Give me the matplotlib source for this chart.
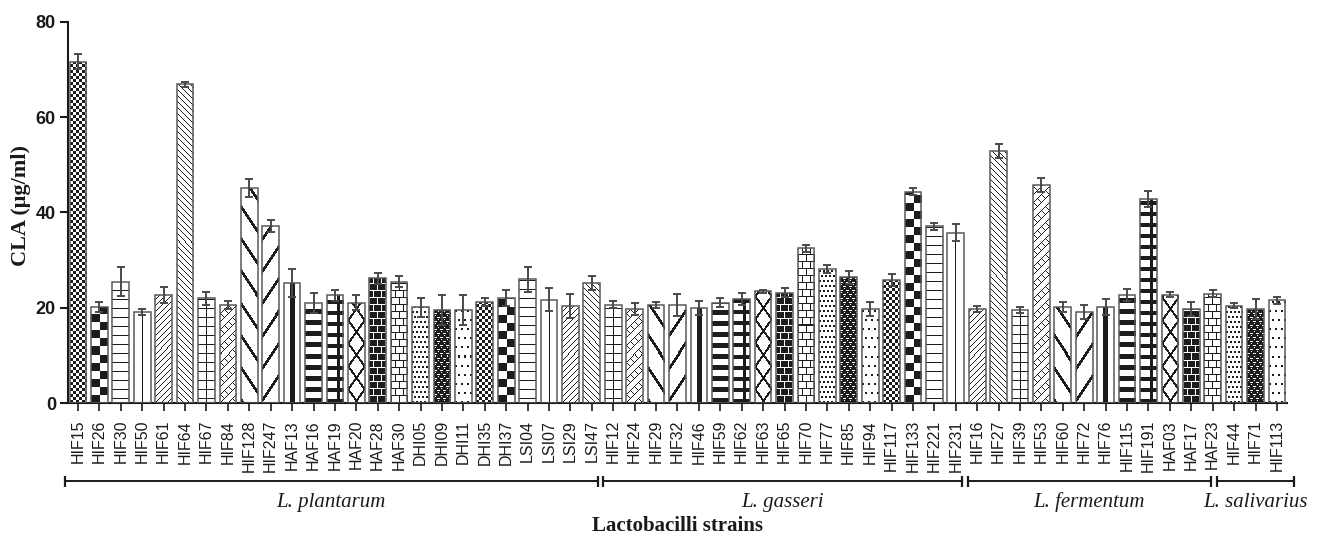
import numpy as np
import matplotlib
matplotlib.use("Agg")
import matplotlib.pyplot as plt

# ---- data -------------------------------------------------------------
strains = [
    # L. plantarum
    "HIF15", "HIF26", "HIF30", "HIF50", "HIF61", "HIF64", "HIF67", "HIF84",
    "HIF128", "HIF247", "HAF13", "HAF16", "HAF19", "HAF20", "HAF28", "HAF30",
    "DHI05", "DHI09", "DHI11", "DHI35", "DHI37", "LSI04", "LSI07", "LSI29", "LSI47",
    # L. gasseri
    "HIF12", "HIF24", "HIF29", "HIF32", "HIF46", "HIF59", "HIF62", "HIF63",
    "HIF65", "HIF70", "HIF77", "HIF85", "HIF94", "HIF117", "HIF133", "HIF221", "HIF231",
    # L. fermentum
    "HIF16", "HIF27", "HIF39", "HIF53", "HIF60", "HIF72", "HIF76", "HIF115",
    "HIF191", "HAF03", "HAF17", "HAF23",
    # L. salivarius
    "HIF44", "HIF71", "HIF113",
]

cla_mean = [
    71.6, 20.2, 25.5, 19.1, 22.7, 66.9, 22.0, 20.6, 45.1, 37.2, 25.2, 21.0, 22.6,
    21.1, 26.2, 25.5, 20.1, 19.6, 19.6, 21.3, 22.0, 26.0, 21.7, 20.4, 25.2,
    20.7, 19.8, 20.6, 20.6, 20.0, 21.1, 21.9, 23.5, 23.2, 32.5, 28.1, 26.4,
    19.8, 25.8, 44.4, 37.1, 35.8,
    19.8, 52.9, 19.6, 45.7, 20.2, 19.2, 20.2, 22.7, 42.9, 22.8, 19.8, 23.0,
    20.5, 19.8, 21.6,
]

cla_sd = [
    1.6, 1.0, 3.0, 0.6, 1.7, 0.5, 1.3, 0.8, 1.9, 1.3, 3.0, 2.1, 1.2,
    1.5, 1.2, 1.2, 2.0, 3.2, 3.2, 0.8, 1.7, 2.6, 2.4, 2.5, 1.5,
    0.8, 1.2, 0.7, 2.3, 1.5, 1.0, 1.2, 0.3, 1.0, 0.7, 0.8, 1.3,
    1.4, 1.3, 0.8, 0.8, 1.8,
    0.6, 1.5, 0.6, 1.5, 1.1, 1.5, 1.7, 1.2, 1.7, 0.5, 1.4, 0.8,
    0.5, 2.1, 0.7,
]

species = ["L. plantarum", "L. gasseri", "L. fermentum", "L. salivarius"]

y_ticks = [0, 20, 40, 60, 80]

# ---- layout -----------------------------------------------------------
W_PX, H_PX = 1323, 541
# horizontal extent of each species bracket, in bar-index units
bracket_spans = [(-0.60, 24.27), (24.54, 41.29), (41.55, 52.92), (53.19, 56.79)]

INK = np.array([0.11, 0.11, 0.11])
PAPER = np.array([1.0, 1.0, 1.0])


def fill_mask(kind, h, w):
    """Boolean ink mask (rows counted from the bar bottom) for fill style `kind`."""
    i, j = np.indices((h, w))
    jc = j - (w - 1) / 2.0
    if kind == 0:    # fine checker
        return ((i // 3) + (j // 3)) % 2 == 0
    if kind == 1:    # coarse checker, two cells across
        return ((i // 8) + (2 * j // w)) % 2 == 0
    if kind == 2:    # thin horizontal rules
        return i % 9 == 4
    if kind == 3:    # single thin vertical rule
        return np.abs(jc) <= 0.5
    if kind == 4:    # thin ///
        return (i - j) % 6 == 0
    if kind == 5:    # thin \\\
        return (i + j) % 6 == 0
    if kind == 6:    # thin grid
        return (i % 9 == 4) | (np.abs(jc) <= 0.5)
    if kind == 7:    # zigzag weave
        a = (i - j) % 8 == 0
        b = ((i + j) % 8 == 0) & (((i - j) // 8) % 2 == 0)
        return a | b
    if kind == 8:    # bold \
        return ((i + 1.5 * j) % 32) < 5
    if kind == 9:    # bold /
        return ((i - 1.5 * j) % 32) < 5
    if kind == 10:   # bold vertical stripe
        return np.abs(jc) <= 2.0
    if kind == 11:   # bold horizontal bands
        return (i % 11) < 5
    if kind == 12:   # bold grid
        return ((i % 11) < 4) | ((jc >= 1.5) & (jc <= 4.5))
    if kind == 13:   # bold crosses
        return (((i + 1.4 * jc) % 23) < 3.5) | (((i - 1.4 * jc) % 23) < 3.5)
    if kind in (14, 15):  # bricks: dark with light mortar / light with dark mortar
        row = i // 7
        mortar = (i % 7 == 0) | ((j + 4 * (row % 2)) % 8 == 0)
        return ~mortar if kind == 14 else mortar
    if kind == 16:   # dense small marks
        return ((i % 5) < 2) & (((j + 2 * ((i // 5) % 2)) % 4) < 2)
    if kind == 17:   # dark with light dashes
        light = (i % 4 == 0) & (((j + 3 * ((i // 4) % 2)) % 6) < 3)
        light |= (i % 4 == 2) & (((j + 3 * ((i // 4) % 2)) % 6) == 4)
        return ~light
    # sparse dots
    return ((i % 9) < 2) & (((j + 3 * ((i // 9) % 2)) % 6) < 2)


fig = plt.figure(figsize=(W_PX / 100, H_PX / 100), dpi=100)
ax_left, ax_right = 67.7, 1287.0
ax_bottom, ax_top = 403.3, 21.7
ax = fig.add_axes([ax_left / W_PX, 1 - ax_bottom / H_PX,
                   (ax_right - ax_left) / W_PX, (ax_bottom - ax_top) / H_PX])

x = np.arange(len(strains))
XLIM = (-0.481, 56.47)
YLIM = (0, 80)

bars = ax.bar(x, cla_mean, width=0.78, facecolor="none", edgecolor="#5a5a5a",
              linewidth=1.1, zorder=3)
ax.set_xlim(*XLIM)
ax.set_ylim(*YLIM)

# pixel scale of the data axes, used to size the fill textures
p0 = ax.transData.transform((0, 0))
p1 = ax.transData.transform((1, 1))
sx, sy = p1[0] - p0[0], p1[1] - p0[1]

for k, (rect, v) in enumerate(zip(bars, cla_mean)):
    x0, w = rect.get_x(), rect.get_width()
    wpx = max(1, int(round(w * sx)))
    hpx = max(1, int(round(v * sy)))
    mask = fill_mask(k % 19, hpx, wpx)
    img = np.where(mask[..., None], INK, PAPER)
    im = ax.imshow(img, extent=(x0, x0 + w, 0, v), origin="lower",
                   interpolation="nearest", aspect="auto", zorder=2)
    im.set_clip_path(rect)

ax.errorbar(x, cla_mean, yerr=cla_sd, fmt="none", ecolor="#4a4a4a",
            elinewidth=1.4, capsize=3, capthick=1.4, zorder=4)

ax.set_xlim(*XLIM)
ax.set_ylim(*YLIM)

for side in ("top", "right"):
    ax.spines[side].set_visible(False)
for side in ("left", "bottom"):
    ax.spines[side].set_linewidth(1.5)
    ax.spines[side].set_color("#1a1a1a")

ax.set_xticks(x)
ax.set_xticklabels(strains, rotation=90, fontsize=11.5, family="Liberation Sans",
                   color="#1a1a1a")
ax.tick_params(axis="x", length=6, width=1.2, pad=6, color="#1a1a1a")

ax.set_yticks(y_ticks)
ax.set_yticklabels([str(t) for t in y_ticks], fontsize=13, fontweight="bold",
                   family="Liberation Sans", color="#1a1a1a")
ax.tick_params(axis="y", length=5.5, width=1.5, pad=3, color="#1a1a1a")

fig.text(21.5 / W_PX, 1 - 206 / H_PX, "CLA (\u03bcg/ml)", rotation=90,
         ha="center", va="center", fontsize=16, fontweight="bold",
         family="Liberation Serif", color="#1a1a1a")

# species brackets under the strain labels
trans = ax.get_xaxis_transform()
span_px = ax_bottom - ax_top
y_br = (ax_bottom - 481.0) / span_px
y_cap = 5.5 / span_px
y_name = (ax_bottom - 506.7) / span_px
for name, (a, b) in zip(species, bracket_spans):
    ax.plot([a, b], [y_br, y_br], transform=trans, clip_on=False,
            color="#1a1a1a", lw=1.4, solid_capstyle="butt")
    for e in (a, b):
        ax.plot([e, e], [y_br - y_cap, y_br + y_cap], transform=trans,
                clip_on=False, color="#1a1a1a", lw=1.6, solid_capstyle="butt")
    ax.text((a + b) / 2, y_name, name, transform=trans, ha="center",
            va="baseline", fontsize=15, style="italic",
            family="Liberation Serif", color="#1a1a1a")

fig.text(677 / W_PX, 1 - 531 / H_PX, "Lactobacilli strains", ha="center",
         va="baseline", fontsize=15, fontweight="bold",
         family="Liberation Serif", color="#1a1a1a")

fig.savefig("out.png", dpi=100)
